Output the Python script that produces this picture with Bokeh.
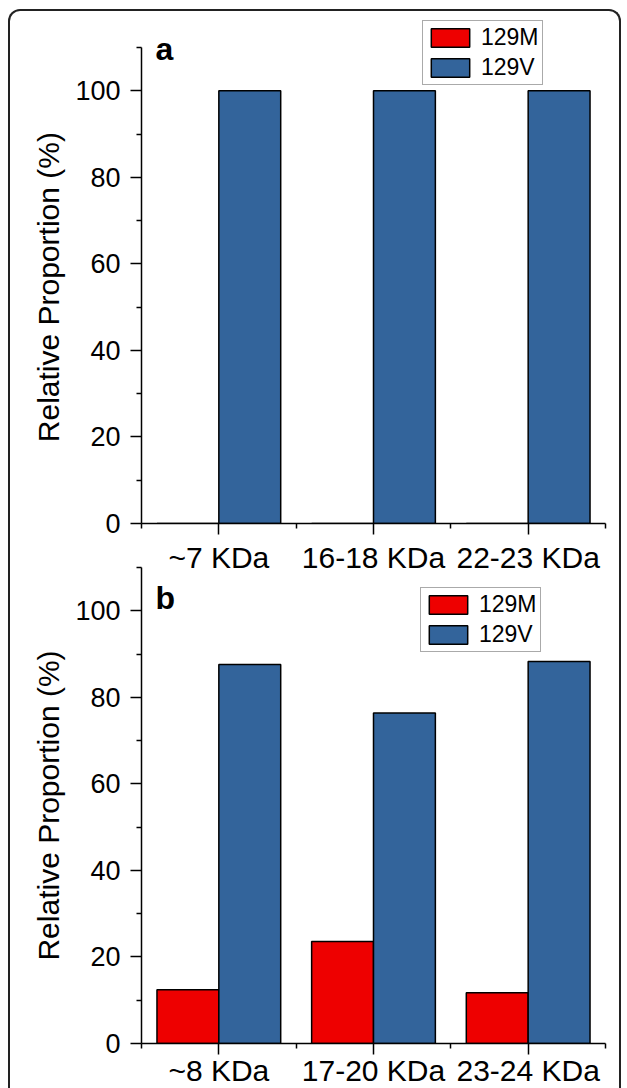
import numpy as np
from bokeh.plotting import figure
from bokeh.models import FixedTicker, Label, Legend, LegendItem, Range1d
from bokeh.layouts import column
from bokeh.embed import file_html
from bokeh.resources import INLINE

# ---- data ----
categories_a = ["~7 KDa", "16-18 KDa", "22-23 KDa"]
m129_a = [0, 0, 0]
v129_a = [100, 100, 100]

categories_b = ["~8 KDa", "17-20 KDa", "23-24 KDa"]
m129_b = [12.4, 23.6, 11.7]
v129_b = [87.6, 76.4, 88.3]

series_names = ["129M", "129V"]
y_major_ticks = [0, 20, 40, 60, 80, 100]
y_minor_ticks = [10, 30, 50, 70, 90, 110]
y_max = 110
y_title = "Relative Proportion (%)"

RED = "#EE0000"
BLUE = "#33649B"
FONT = "Liberation Sans"
PX_PER_UNIT = 476 / 110.0


def make_panel(cats, m_vals, v_vals, tag, tag_y, legend_xy, top_border,
               bottom_border, margin, extra_top_px, xlabel_standoff, title_pad):
    # the frame extends above the axis top (so the legend is not clipped);
    # the axis itself is bounded to 0..y_max
    frame_h = 476 + extra_top_px
    y_end = y_max + extra_top_px / PX_PER_UNIT
    p = figure(frame_width=464, frame_height=frame_h,
               x_range=Range1d(0, len(cats)), y_range=Range1d(0, y_end),
               output_backend="svg", toolbar_location=None,
               min_border_left=131, min_border_right=14,
               min_border_top=top_border, min_border_bottom=bottom_border,
               margin=margin)
    p.border_fill_color = None
    p.background_fill_color = None
    p.outline_line_color = None
    p.grid.visible = False

    x = np.arange(len(cats)) + 0.5
    bw = 0.4
    r_m = p.vbar(x=x - bw / 2, top=m_vals, width=bw, fill_color=RED,
                 line_color="black", line_width=1.5)
    r_v = p.vbar(x=x + bw / 2, top=v_vals, width=bw, fill_color=BLUE,
                 line_color="black", line_width=1.5)

    legend = Legend(items=[LegendItem(label=series_names[0], renderers=[r_m]),
                           LegendItem(label=series_names[1], renderers=[r_v])],
                    location=legend_xy, margin=0, padding=3, spacing=3,
                    glyph_width=48, glyph_height=23, label_height=23,
                    label_standoff=7, label_text_font=FONT,
                    label_text_font_size="23px", label_text_color="black",
                    border_line_color="#555555", border_line_width=1.5,
                    background_fill_color="white", background_fill_alpha=1.0)
    p.add_layout(legend)

    xa = p.xaxis[0]
    xa.ticker = FixedTicker(ticks=list(x), minor_ticks=list(range(len(cats) + 1)))
    xa.major_label_overrides = {float(xi): c for xi, c in zip(x, cats)}
    ya = p.yaxis[0]
    ya.bounds = (0, y_max)
    ya.ticker = FixedTicker(ticks=y_major_ticks, minor_ticks=y_minor_ticks)
    # non-breaking padding keeps the title centred on the bounded axis
    ya.axis_label = y_title + "\u00a0" * title_pad
    ya.axis_label_text_font = FONT
    ya.axis_label_text_font_size = "30px"
    ya.axis_label_text_font_style = "normal"
    ya.axis_label_text_color = "black"
    ya.axis_label_standoff = 7
    ya.major_label_standoff = 10
    xa.major_label_standoff = xlabel_standoff
    xa.major_label_text_font_size = "30px"
    ya.major_label_text_font_size = "27px"
    for ax in (xa, ya):
        ax.major_label_text_font = FONT
        ax.major_label_text_color = "black"
        ax.axis_line_width = 1.5
        ax.axis_line_color = "black"
        ax.major_tick_in = 0
        ax.major_tick_out = 11
        ax.minor_tick_in = 0
        ax.minor_tick_out = 5
        ax.major_tick_line_width = 1.5
        ax.minor_tick_line_width = 1.5
        ax.major_tick_line_color = "black"
        ax.minor_tick_line_color = "black"

    p.add_layout(Label(x=0.09, y=tag_y, text=tag, text_font=FONT,
                       text_font_size="32px", text_font_style="bold",
                       text_color="black", text_baseline="alphabetic"))
    return p


pa = make_panel(categories_a, m129_a, v129_a, "a", 109.6, (281, 438),
                6, 56, 0, 30, 6, 4)
pb = make_panel(categories_b, m129_b, v129_b, "b", 103.0, (279, 391),
                4, 45, (-16, 0, 0, 0), 0, -1, 0)

layout = column(pa, pb, styles={"border": "2px solid #222222",
                                "border-bottom": "none",
                                "border-radius": "12px 12px 0 0",
                                "margin-top": "9px",
                                "margin-left": "8px"})

open("out.html", "w").write(file_html(layout, INLINE))
